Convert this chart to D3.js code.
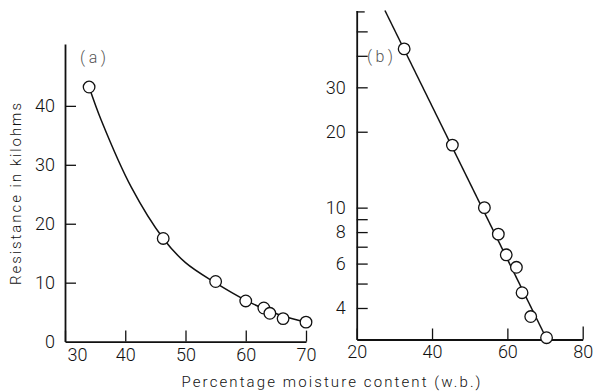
<!DOCTYPE html>
<html><head><meta charset="utf-8">
<script src="https://cdn.jsdelivr.net/npm/d3@7"></script>
<style>
body{margin:0;background:#fff;}
svg{display:block;}
text{font-family:Roboto,"DejaVu Sans",sans-serif;font-weight:300;fill:#111;}
</style></head>
<body><svg id="c" width="593" height="391"></svg>
<script>
// Panel (a): linear scale
const aMoisture = [34, 46.3, 55, 60, 63, 64, 66.2, 70];
const aResist   = [43.2, 17.5, 10.2, 6.9, 5.7, 4.8, 3.9, 3.3];
const aCurveX   = [34, 36, 41, 46.3, 50, 55, 60, 63, 66, 70];
const aCurveY   = [43.2, 37.6, 26.2, 17.5, 13.4, 9.95, 7.0, 5.6, 4.4, 3.3];
const aXTicks   = [30, 40, 50, 60, 70];
const aYTicks   = [0, 10, 20, 30, 40];

// Panel (b): log scale
const bMoisture = [32.6, 45.4, 53.9, 57.6, 59.7, 62.4, 63.9, 66.2, 70.4];
const bResist   = [42.6, 17.7, 10, 7.85, 6.5, 5.8, 4.6, 3.7, 3.05];
const bLineX    = [27.5, 70.5];
const bLineY    = [60.5, 3.0];
const bXTicks   = [20, 40, 60, 80];
const bYTicks   = [4, 5, 6, 7, 8, 9, 10, 20, 30, 40, 50, 60];
const bYLabels  = [4, 6, 8, 10, 20, 30];

const svg = d3.select("#c");

// ---------- Panel (a)
const xa = d3.scaleLinear().domain([30, 70]).range([65, 306]);
const ya = d3.scaleLinear().domain([0, 50.5]).range([341.6, 44]);

const gya = svg.append("g").attr("transform", `translate(${xa(30)},0)`)
  .call(d3.axisLeft(ya).tickValues(aYTicks).tickSizeInner(-11).tickSizeOuter(0).tickPadding(10).tickFormat(d3.format("d")));
const gxa = svg.append("g").attr("transform", `translate(0,${ya(0)})`)
  .call(d3.axisBottom(xa).tickValues(aXTicks).tickSizeInner(-11).tickSizeOuter(0).tickPadding(7).tickFormat(d3.format("d")));
gxa.selectAll(".tick").filter(d => d === 30).select("text").attr("dx", 12);

// ---------- Panel (b)
const xb = d3.scaleLinear().domain([20, 80]).range([356.7, 582.7]);
const yb = d3.scaleLog().domain([3, 60.5]).range([339.5, 10.5]);

const gyb = svg.append("g").attr("transform", `translate(${xb(20)},0)`)
  .call(d3.axisLeft(yb).tickValues(bYTicks).tickSizeInner(-11).tickSizeOuter(0).tickPadding(11)
    .tickFormat(d => bYLabels.includes(d) ? d3.format("d")(d) : ""));
gyb.selectAll(".tick").filter(d => d === 60).select("line").attr("x2", 8);
const gxb = svg.append("g").attr("transform", `translate(0,${yb(3)})`)
  .call(d3.axisBottom(xb).tickValues(bXTicks).tickSizeInner(-11).tickSizeOuter(0).tickPadding(6).tickFormat(d3.format("d")));
gxb.selectAll(".tick").filter(d => d === 80).select("line").attr("y2", -13);

svg.selectAll(".domain").attr("stroke", "#111").attr("stroke-width", 1.8);
svg.selectAll(".tick line").attr("stroke", "#111").attr("stroke-width", 1.3);
svg.selectAll(".tick text").style("font-family", "Roboto, 'DejaVu Sans', sans-serif")
  .style("font-weight", 300).style("font-size", "18px").attr("fill", "#111");
gya.selectAll(".tick").filter(d => d === 0).select("line").remove();

// curve (a)
svg.append("path")
  .datum(d3.zip(aCurveX, aCurveY))
  .attr("fill", "none").attr("stroke", "#111").attr("stroke-width", 1.5)
  .attr("d", d3.line().x(d => xa(d[0])).y(d => ya(d[1])).curve(d3.curveCatmullRom.alpha(0.5)));

// line (b)
svg.append("path")
  .datum(d3.zip(bLineX, bLineY))
  .attr("fill", "none").attr("stroke", "#111").attr("stroke-width", 1.5)
  .attr("d", d3.line().x(d => xb(d[0])).y(d => yb(d[1])));

// points
svg.append("g").selectAll("circle").data(d3.zip(aMoisture, aResist)).join("circle")
  .attr("cx", d => xa(d[0])).attr("cy", d => ya(d[1])).attr("r", 5.8)
  .attr("fill", "#fff").attr("stroke", "#111").attr("stroke-width", 1.3);
svg.append("g").selectAll("circle").data(d3.zip(bMoisture, bResist)).join("circle")
  .attr("cx", d => xb(d[0])).attr("cy", d => yb(d[1])).attr("r", 5.8)
  .attr("fill", "#fff").attr("stroke", "#111").attr("stroke-width", 1.3);

// panel labels
svg.append("text").attr("x", 93).attr("y", 63).attr("text-anchor", "middle")
  .style("font-size", "16px").style("fill", "#555")
  .attr("textLength", 26).attr("lengthAdjust", "spacing").text("(a)");
svg.append("text").attr("x", 380).attr("y", 62).attr("text-anchor", "middle")
  .style("font-size", "16px").style("fill", "#555")
  .attr("textLength", 26).attr("lengthAdjust", "spacing").text("(b)");

// axis titles
svg.append("text").attr("transform", "translate(21,194) rotate(-90)")
  .attr("text-anchor", "middle").style("font-size", "15px")
  .attr("textLength", 182).attr("lengthAdjust", "spacing")
  .text("Resistance in kilohms");
svg.append("text").attr("x", 331).attr("y", 387).attr("text-anchor", "middle")
  .style("font-size", "15px")
  .attr("textLength", 299).attr("lengthAdjust", "spacing")
  .text("Percentage moisture content (w.b.)");
</script></body></html>
